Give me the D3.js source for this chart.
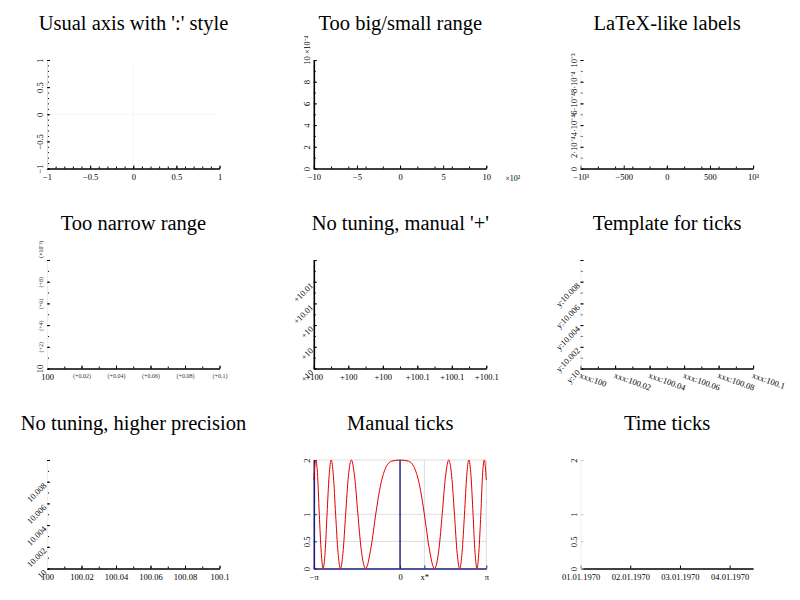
<!DOCTYPE html>
<html>
<head>
<meta charset="utf-8">
<script src="https://cdn.jsdelivr.net/npm/d3@7"></script>
<style>
body { margin: 0; background: #fff; }
svg { display: block; }
.title { font-family: "Liberation Serif", serif; font-size: 20.5px; text-anchor: middle; fill: #000; }
.tick text { font-family: "Liberation Serif", serif; font-size: 8.5px; fill: #000; }
.tick text.small { font-size: 6px; fill: #333; }
.extra { font-family: "Liberation Serif", serif; font-size: 8px; fill: #000; }
</style>
</head>
<body>
<div id="chart"></div>
<script>
var titles = ["Usual axis with ':' style", "Too big/small range", "LaTeX-like labels",
    "Too narrow range", "No tuning, manual '+'", "Template for ticks",
    "No tuning, higher precision", "Manual ticks", "Time ticks"];

// panel 1
var usualTicks = [-1, -0.5, 0, 0.5, 1];
var usualLabels = ["\u22121", "\u22120.5", "0", "0.5", "1"];

// panel 2
var bigXTicks = [-1000, -500, 0, 500, 1000];
var bigXLabels = ["\u221210", "\u22125", "0", "5", "10"];
var bigYTicks = [0, 0.0002, 0.0004, 0.0006, 0.0008, 0.001];
var bigYLabels = ["0", "2", "4", "6", "8", "10"];

// panel 3
var texXLabels = ["\u221210\u00b3", "\u2212500", "0", "500", "10\u00b3"];
var texYLabels = ["0", "2\u00b710\u207b\u2074", "4\u00b710\u207b\u2074", "6\u00b710\u207b\u2074", "8\u00b710\u207b\u2074", "10\u207b\u00b3"];

// panels 4-7 (narrow range)
var narrowXTicks = [100, 100.02, 100.04, 100.06, 100.08, 100.1];
var narrowYTicks = [10, 10.002, 10.004, 10.006, 10.008, 10.01];
var narrowXLabels = ["100", "(+0.02)", "(+0.04)", "(+0.06)", "(+0.08)", "(+0.1)"];
var narrowYLabels = ["10", "(+2)", "(+4)", "(+6)", "(+8)", ""];
var plusXLabels = ["+100", "+100", "+100", "+100.1", "+100.1", "+100.1"];
var plusYLabels = ["+10", "+10", "+10", "+10.01", "+10.01", ""];
var templXLabels = ["xxx:100", "xxx:100.02", "xxx:100.04", "xxx:100.06", "xxx:100.08", "xxx:100.1"];
var templYLabels = ["y:10", "y:10.002", "y:10.004", "y:10.006", "y:10.008", ""];
var precXLabels = ["100", "100.02", "100.04", "100.06", "100.08", "100.1"];
var precYLabels = ["10", "10.002", "10.004", "10.006", "10.008", ""];

// panel 8 (manual ticks)
var manualXTicks = [-Math.PI, 0, 0.886, Math.PI];
var manualXLabels = ["\u2212\u03c0", "0", "x*", "\u03c0"];
var manualYTicks = [0, 0.5, 1, 2];
var manualYLabels = ["0", "0.5", "1", "2"];
var curveX = [-3.1416, -3.07, -3.01, -2.942, -2.87, -2.8025, -2.73, -2.659, -2.585, -2.507,
    -2.43, -2.347, -2.26, -2.171, -2.08, -1.982, -1.88, -1.772, -1.65, -1.535, -1.42, -1.2533,
    -1.05, -0.886, -0.7, -0.5, -0.3, 0, 0.3, 0.5, 0.7, 0.886, 1.05, 1.2533, 1.42, 1.535, 1.65,
    1.772, 1.88, 1.982, 2.08, 2.171, 2.26, 2.347, 2.43, 2.507, 2.585, 2.659, 2.73, 2.8025,
    2.87, 2.942, 3.01, 3.07, 3.1416];
var curveY = [1.63, 2, 1.77, 1, 0.3, 0, 0.3, 1, 1.7, 2,
    1.72, 1, 0.3, 0, 0.28, 1, 1.71, 2, 1.67, 1, 0.37, 0,
    0.41, 1, 1.56, 1.88, 1.98, 2, 1.98, 1.88, 1.56, 1, 0.41, 0, 0.37, 1, 1.67,
    2, 1.71, 1, 0.28, 0, 0.3, 1, 1.72, 2, 1.7, 1, 0.3, 0,
    0.3, 1, 1.77, 2, 1.63];

// panel 9 (time ticks, seconds)
var timeXTicks = [0, 86400, 172800, 259200];
var timeYTicks = [0, 0.5, 1, 2];
var timeYLabels = ["0", "0.5", "1", "2"];

var width = 800, height = 600;
var svg = d3.select("#chart").append("svg")
    .attr("width", width)
    .attr("height", height);

// one panel = subplot of a 3x3 grid
function makePanel(i, xDomain, yDomain) {
    var c = i % 3, r = Math.floor(i / 3);
    var x0 = 47 + 266.8 * c, y0 = 60 + 200 * r;
    var p = {};
    p.g = svg.append("g");
    p.x = d3.scaleLinear().domain(xDomain).range([x0, x0 + 172.5]);
    p.y = d3.scaleLinear().domain(yDomain).range([y0 + 108.5, y0]);
    svg.append("text")
        .attr("class", "title")
        .attr("x", x0 + 86.5)
        .attr("y", 30 + 200 * r)
        .text(titles[i]);
    return p;
}

function drawAxes(p, o) {
    var xColor = o.xColor || "#000", yColor = o.yColor || "#000";

    // minor ticks first
    if (o.xMinor) {
        p.g.append("g")
            .attr("transform", "translate(0," + p.y.range()[0] + ")")
            .call(d3.axisBottom(p.x).tickValues(o.xMinor).tickFormat("").tickSizeInner(-2).tickSizeOuter(0))
            .call(function(g) { g.select(".domain").remove(); })
            .selectAll("line").attr("stroke", xColor);
    }
    if (o.yMinor) {
        p.g.append("g")
            .attr("transform", "translate(" + p.x.range()[0] + ",0)")
            .call(d3.axisLeft(p.y).tickValues(o.yMinor).tickFormat("").tickSizeInner(-2).tickSizeOuter(0))
            .call(function(g) { g.select(".domain").remove(); })
            .selectAll("line").attr("stroke", o.yMinorColor || yColor);
    }

    var xa = d3.axisBottom(p.x)
        .tickValues(o.xTicks)
        .tickFormat(function(d, i) { return o.xLabels[i]; })
        .tickSizeInner(-3).tickSizeOuter(0).tickPadding(5.5);
    var gx = p.g.append("g")
        .attr("transform", "translate(0," + p.y.range()[0] + ")")
        .call(xa);
    gx.select(".domain").attr("stroke", xColor).attr("stroke-width", 1.6);
    gx.selectAll(".tick line").attr("stroke", xColor);
    if (o.xRot) {
        gx.selectAll(".tick text")
            .attr("y", null).attr("dy", null)
            .attr("text-anchor", "start")
            .attr("transform", "translate(-2,9) rotate(" + o.xRot + ")");
    }

    var ya = d3.axisLeft(p.y)
        .tickValues(o.yTicks)
        .tickFormat(function(d, i) { return o.yLabels[i]; })
        .tickSizeInner(-3).tickSizeOuter(0).tickPadding(4);
    var gy = p.g.append("g")
        .attr("transform", "translate(" + p.x.range()[0] + ",0)")
        .call(ya);
    gy.select(".domain").attr("stroke", o.yAxisColor || yColor).attr("stroke-width", o.yAxisWidth || 1.6);
    gy.selectAll(".tick line").attr("stroke", yColor);
    var yt = gy.selectAll(".tick text").attr("x", null).attr("dy", null);
    if (o.yRot === -45) {
        yt.attr("text-anchor", "end").attr("transform", "translate(0,4) rotate(-45)");
    } else {
        yt.attr("text-anchor", "middle").attr("transform", "translate(-4,0) rotate(-90)");
    }
    return { gx: gx, gy: gy };
}

// 1. usual axis
var p1 = makePanel(0, [-1, 1], [-1, 1]);
p1.g.append("line")
    .attr("x1", p1.x(0)).attr("x2", p1.x(0))
    .attr("y1", p1.y(-1)).attr("y2", p1.y(1))
    .attr("stroke", "#eee").attr("stroke-dasharray", "2,2");
p1.g.append("line")
    .attr("x1", p1.x(-1)).attr("x2", p1.x(1))
    .attr("y1", p1.y(0)).attr("y2", p1.y(0))
    .attr("stroke", "#eee").attr("stroke-dasharray", "2,2");
drawAxes(p1, {
    xTicks: usualTicks, xLabels: usualLabels, xMinor: p1.x.ticks(20),
    yTicks: usualTicks, yLabels: usualLabels, yMinor: p1.y.ticks(20),
    yAxisColor: "#ddd", yAxisWidth: 1
});

// 2. too big/small range
var p2 = makePanel(1, [-1000, 1000], [0, 0.001]);
drawAxes(p2, {
    xTicks: bigXTicks, xLabels: bigXLabels, xMinor: p2.x.ticks(8),
    yTicks: bigYTicks, yLabels: bigYLabels, yMinor: p2.y.ticks(10)
});
svg.append("text").attr("class", "extra")
    .attr("x", p2.x(1000) + 19).attr("y", p2.y(0) + 12)
    .text("\u00d710\u00b2");
svg.append("text").attr("class", "extra")
    .attr("text-anchor", "start")
    .attr("transform", "translate(" + (p2.x(-1000) - 4) + "," + (p2.y(0.001) - 6) + ") rotate(-90)")
    .text("\u00d710\u207b\u2074");

// 3. LaTeX-like labels
var p3 = makePanel(2, [-1000, 1000], [0, 0.001]);
drawAxes(p3, {
    xTicks: bigXTicks, xLabels: texXLabels, xMinor: p3.x.ticks(8),
    yTicks: bigYTicks, yLabels: texYLabels, yMinor: p3.y.ticks(10),
    yAxisColor: "#eee", yAxisWidth: 1
});

// 4. too narrow range
var p4 = makePanel(3, [100, 100.1], [10, 10.01]);
var a4 = drawAxes(p4, {
    xTicks: narrowXTicks, xLabels: narrowXLabels, xMinor: p4.x.ticks(10),
    yTicks: narrowYTicks, yLabels: narrowYLabels, yMinor: p4.y.ticks(10),
    yAxisColor: "#eee", yAxisWidth: 1
});
a4.gx.selectAll(".tick text").classed("small", function(d, i) { return i > 0; });
a4.gy.selectAll(".tick text").classed("small", function(d, i) { return i > 0; });
svg.append("text").attr("class", "extra")
    .style("font-size", "6px")
    .attr("text-anchor", "start")
    .attr("transform", "translate(" + (p4.x(100) - 4) + "," + (p4.y(10.01) - 2) + ") rotate(-90)")
    .text("(\u00d710\u207b\u00b3)");

// 5. no tuning, manual '+'
var p5 = makePanel(4, [100, 100.1], [10, 10.01]);
drawAxes(p5, {
    xTicks: narrowXTicks, xLabels: plusXLabels, xMinor: p5.x.ticks(10),
    yTicks: narrowYTicks, yLabels: plusYLabels, yMinor: p5.y.ticks(10),
    yRot: -45
});

// 6. template for ticks
var p6 = makePanel(5, [100, 100.1], [10, 10.01]);
drawAxes(p6, {
    xTicks: narrowXTicks, xLabels: templXLabels, xMinor: p6.x.ticks(10), xRot: 20,
    yTicks: narrowYTicks, yLabels: templYLabels, yMinor: p6.y.ticks(10),
    yRot: -45, yAxisColor: "#eee", yAxisWidth: 1
});

// 7. higher precision
var p7 = makePanel(6, [100, 100.1], [10, 10.01]);
drawAxes(p7, {
    xTicks: narrowXTicks, xLabels: precXLabels, xMinor: p7.x.ticks(10),
    yTicks: narrowYTicks, yLabels: precYLabels, yMinor: p7.y.ticks(10),
    yRot: -45, yAxisColor: "#eee", yAxisWidth: 1
});

// 8. manual ticks
var p8 = makePanel(7, [-Math.PI, Math.PI], [0, 2]);
p8.g.selectAll(".hgrid").data([0.5, 1, 2]).enter().append("line")
    .attr("x1", p8.x(-Math.PI)).attr("x2", p8.x(Math.PI))
    .attr("y1", function(d) { return p8.y(d); })
    .attr("y2", function(d) { return p8.y(d); })
    .attr("stroke", "#ddd");
p8.g.selectAll(".vgrid").data([0.886, Math.PI]).enter().append("line")
    .attr("x1", function(d) { return p8.x(d); })
    .attr("x2", function(d) { return p8.x(d); })
    .attr("y1", p8.y(0)).attr("y2", p8.y(2))
    .attr("stroke", "#ddd");
p8.g.append("line")
    .attr("x1", p8.x(0)).attr("x2", p8.x(0))
    .attr("y1", p8.y(0)).attr("y2", p8.y(2))
    .attr("stroke", "#1a1a7a").attr("stroke-width", 1.4);
drawAxes(p8, {
    xTicks: manualXTicks, xLabels: manualXLabels, xColor: "#1a1a7a",
    yTicks: manualYTicks, yLabels: manualYLabels, yColor: "#1a1a7a"
});
var line = d3.line()
    .x(function(d, i) { return p8.x(curveX[i]); })
    .y(function(d) { return p8.y(d); })
    .curve(d3.curveMonotoneX);
p8.g.append("path")
    .datum(curveY)
    .attr("fill", "none")
    .attr("stroke", "#e00000")
    .attr("stroke-width", 1)
    .attr("d", line);

// 9. time ticks
var p9 = makePanel(8, [0, 300000], [0, 2]);
var fmt = d3.utcFormat("%d.%m.%Y");
drawAxes(p9, {
    xTicks: timeXTicks, xLabels: timeXTicks.map(function(t) { return fmt(new Date(t * 1000)); }),
    yTicks: timeYTicks, yLabels: timeYLabels,
    yColor: "#ccc", yAxisColor: "#eee", yAxisWidth: 1
});
</script>
</body>
</html>
